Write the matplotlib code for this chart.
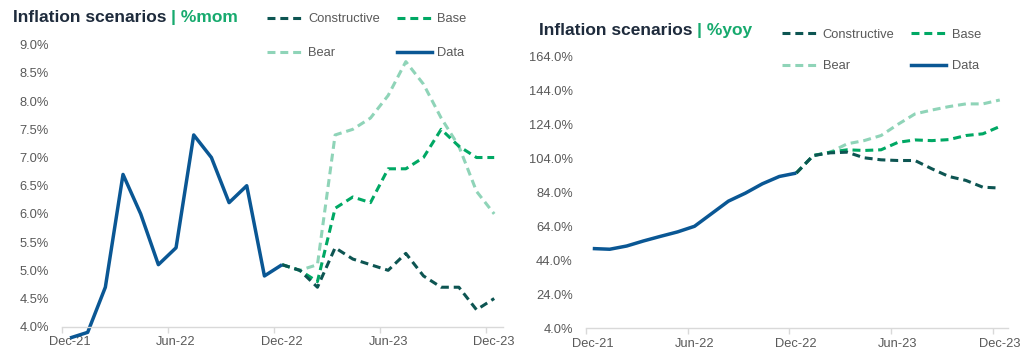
import matplotlib.pyplot as plt
from matplotlib.lines import Line2D
import numpy as np

plt.rcParams['font.family'] = ['Liberation Sans', 'DejaVu Sans']

# monthly axis, Dec-21 .. Dec-23
months = ['Dec-21', 'Jan-22', 'Feb-22', 'Mar-22', 'Apr-22', 'May-22', 'Jun-22',
          'Jul-22', 'Aug-22', 'Sep-22', 'Oct-22', 'Nov-22', 'Dec-22',
          'Jan-23', 'Feb-23', 'Mar-23', 'Apr-23', 'May-23', 'Jun-23',
          'Jul-23', 'Aug-23', 'Sep-23', 'Oct-23', 'Nov-23', 'Dec-23']
tick_labels = ['Dec-21', 'Jun-22', 'Dec-22', 'Jun-23', 'Dec-23']

# month-on-month, %
mom_data = [3.8, 3.9, 4.7, 6.7, 6.0, 5.1, 5.4, 7.4, 7.0, 6.2, 6.5, 4.9, 5.1]
mom_constructive = [5.1, 5.0, 4.7, 5.4, 5.2, 5.1, 5.0, 5.3, 4.9, 4.7, 4.7, 4.3, 4.5]
mom_base = [5.1, 5.0, 4.8, 6.1, 6.3, 6.2, 6.8, 6.8, 7.0, 7.5, 7.2, 7.0, 7.0]
mom_bear = [5.1, 5.0, 5.1, 7.4, 7.5, 7.7, 8.1, 8.7, 8.3, 7.7, 7.2, 6.4, 6.0]

# year-on-year, %
yoy_data = [50.9, 50.5, 52.4, 55.4, 58.1, 60.7, 64.0, 71.4, 78.8, 83.5, 89.0, 93.3, 95.3]
yoy_constructive = [95.3, 105.6, 107.2, 107.6, 104.3, 103.1, 102.7, 102.7, 97.8, 93.3, 91.0, 87.0, 86.5]
yoy_base = [95.3, 105.6, 107.6, 109.0, 108.6, 109.0, 113.4, 114.8, 114.4, 115.0, 117.4, 118.4, 122.7]
yoy_bear = [95.3, 105.6, 107.6, 112.5, 114.4, 117.4, 124.0, 130.1, 132.4, 134.4, 136.0, 136.0, 138.3]

C_CONS = '#0d5552'
C_BASE = '#00a864'
C_BEAR = '#8fd4b8'
C_DATA = '#0a5794'
C_TITLE = '#1e2b3c'
C_ACCENT = '#17aa6e'
C_TEXT = '#595959'
FS = 9.3

fig = plt.figure(figsize=(10.34, 3.51), dpi=100)
ax1 = fig.add_axes([0.060, 0.0692, 0.4265, 0.8034])
ax2 = fig.add_axes([0.5667, 0.0647, 0.4084, 0.7749])

x_hist = np.arange(len(mom_data))
x_scen = np.arange(len(mom_data) - 1, len(months))
dash = dict(lw=2.2, dashes=(2.6, 1.6))


def draw(ax, data, cons, base, bear):
    ax.plot(x_scen, bear, color=C_BEAR, clip_on=False, **dash)
    ax.plot(x_scen, base, color=C_BASE, clip_on=False, **dash)
    ax.plot(x_scen, cons, color=C_CONS, clip_on=False, **dash)
    ax.plot(x_hist, data, color=C_DATA, lw=2.5, clip_on=False, solid_capstyle='butt')


def style(ax, yticks, xoff):
    for s in ['top', 'right', 'left']:
        ax.spines[s].set_visible(False)
    ax.spines['bottom'].set_color('#d9d9d9')
    ax.spines['bottom'].set_linewidth(1.0)
    ax.set_xlim(-xoff, 24.5)
    ax.set_xticks(range(0, 25, 6))
    ax.set_xticklabels(tick_labels)
    ax.set_xticks([i - xoff for i in range(0, 25, 6)], minor=True)
    ax.tick_params(axis='x', which='major', length=0, pad=7, labelsize=FS, labelcolor=C_TEXT)
    ax.tick_params(axis='x', which='minor', length=4, width=1.0, color='#d9d9d9')
    ax.set_yticks(yticks)
    ax.set_ylim(yticks[0], yticks[-1])
    ax.set_yticklabels([f'{v:.1f}%' for v in yticks])
    ax.tick_params(axis='y', length=0, pad=9.5, labelsize=FS, labelcolor=C_TEXT)


draw(ax1, mom_data, mom_constructive, mom_base, mom_bear)
style(ax1, np.arange(4.0, 9.01, 0.5), 0.45)
draw(ax2, yoy_data, yoy_constructive, yoy_base, yoy_bear)
style(ax2, np.arange(4.0, 164.1, 20.0), 0.4)

handles = [Line2D([], [], color=C_CONS, **dash),
           Line2D([], [], color=C_BEAR, **dash),
           Line2D([], [], color=C_BASE, **dash),
           Line2D([], [], color=C_DATA, lw=2.5)]
labels = ['Constructive', 'Bear', 'Base', 'Data']


def titled(x, y, suffix, lx, ly, rowgap):
    t = fig.text(x, y, 'Inflation scenarios ', fontsize=12.5, fontweight='bold',
                 color=C_TITLE, va='baseline', ha='left')
    fig.add_artist(plt.Annotation('| ' + suffix, xy=(1, 0), xycoords=t, va='bottom',
                                  ha='left', fontsize=12.5, fontweight='bold',
                                  color=C_ACCENT))
    fig.legend(handles, labels, ncol=2, loc='upper left', bbox_to_anchor=(lx, ly),
               frameon=False, fontsize=FS, labelcolor=C_TEXT, borderpad=0,
               handlelength=2.7, handletextpad=0.45, columnspacing=1.3,
               labelspacing=rowgap)


titled(0.0126, 0.938, '%mom', 0.2524, 0.981, 1.7)
titled(0.5213, 0.8994, '%yoy', 0.750, 0.937, 1.5)

fig.savefig('out.png', dpi=100)
